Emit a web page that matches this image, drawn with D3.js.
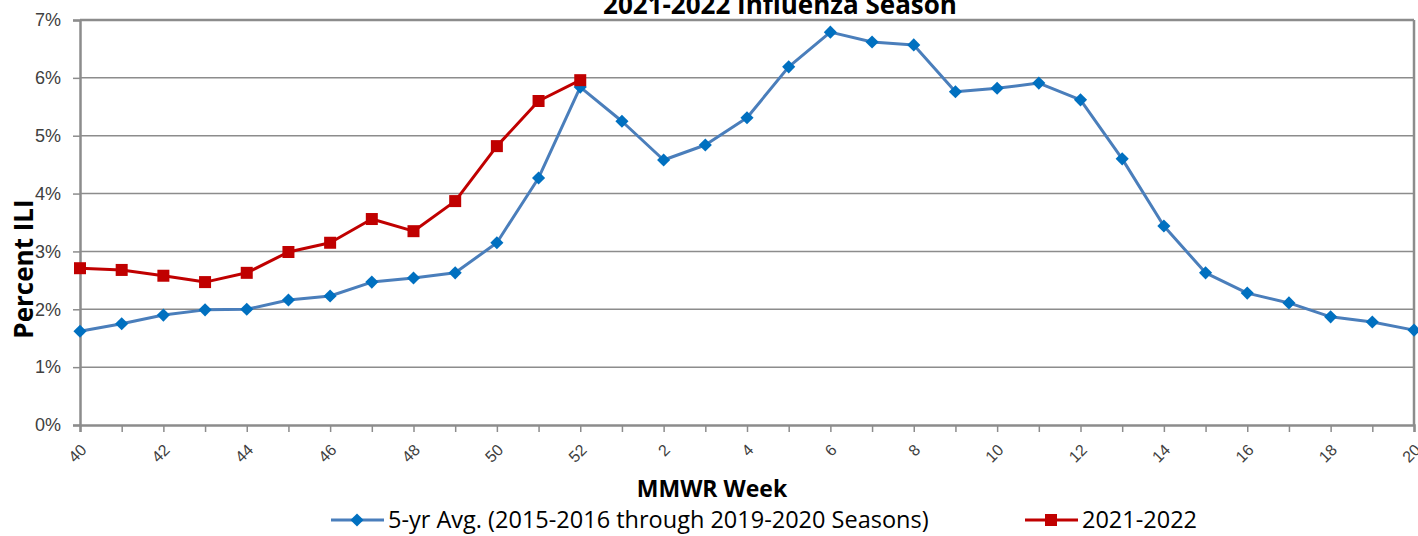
<!DOCTYPE html>
<html>
<head>
<meta charset="utf-8">
<script src="https://cdn.jsdelivr.net/npm/d3@7"></script>
<style>
  body { margin: 0; background: #fff; }
  svg { font-family: "Open Sans", "Liberation Sans", sans-serif; }
  .grid line { stroke: #8c8c8c; stroke-width: 1.5; }
  .tick text { fill: #404040; }
</style>
</head>
<body>
<div id="chart"></div>
<script>
// weeks on the x axis (season order)
var weeks = [40, 41, 42, 43, 44, 45, 46, 47, 48, 49, 50, 51, 52,
             1, 2, 3, 4, 5, 6, 7, 8, 9, 10, 11, 12, 13, 14, 15, 16, 17, 18, 19, 20];
// 5-year average, percent ILI
var avgValues = [1.62, 1.75, 1.90, 1.99, 2.00, 2.16, 2.23, 2.47, 2.54, 2.63, 3.15, 4.27, 5.84,
                 5.25, 4.58, 4.84, 5.31, 6.19, 6.79, 6.62, 6.57, 5.76, 5.82, 5.91, 5.62,
                 4.60, 3.44, 2.63, 2.28, 2.11, 1.87, 1.78, 1.64];
// current season so far
var seasonValues = [2.71, 2.68, 2.58, 2.47, 2.63, 2.99, 3.15, 3.56, 3.35, 3.87, 4.82, 5.60, 5.96];
var yTicks = [0, 1, 2, 3, 4, 5, 6, 7];
var seriesNames = ["5-yr Avg. (2015-2016 through 2019-2020 Seasons)", "2021-2022"];

var width = 1418, height = 536;
var margin = {left: 80, right: 4, top: 20, bottom: 111};
var plotW = width - margin.left - margin.right;
var plotH = height - margin.top - margin.bottom;

var svg = d3.select("#chart").append("svg")
    .attr("width", width)
    .attr("height", height);

var x = d3.scaleLinear().domain([0, weeks.length - 1]).range([margin.left, margin.left + plotW]);
var y = d3.scaleLinear().domain([0, 7]).range([margin.top + plotH, margin.top]);

// gridlines
svg.append("g").attr("class", "grid")
    .selectAll("line").data(yTicks.slice(1, -1))
    .enter().append("line")
    .attr("x1", margin.left).attr("x2", margin.left + plotW)
    .attr("y1", d => y(d)).attr("y2", d => y(d));

// frame top and right
svg.append("line")
    .attr("x1", margin.left).attr("x2", margin.left + plotW)
    .attr("y1", y(7)).attr("y2", y(7))
    .attr("stroke", "#8c8c8c").attr("stroke-width", 2.5);
svg.append("line")
    .attr("x1", margin.left + plotW).attr("x2", margin.left + plotW)
    .attr("y1", y(7)).attr("y2", y(0))
    .attr("stroke", "#8c8c8c").attr("stroke-width", 2.5);

// y axis
var yAxis = svg.append("g")
    .attr("transform", "translate(" + margin.left + ",0)")
    .call(d3.axisLeft(y).tickValues(yTicks).tickSize(7).tickPadding(12).tickFormat(d => d + "%"));
yAxis.selectAll("text").style("font-size", "18px");

// x axis
var xAxis = svg.append("g")
    .attr("transform", "translate(0," + y(0) + ")")
    .call(d3.axisBottom(x).tickValues(d3.range(weeks.length)).tickSize(7)
        .tickFormat((d, i) => i % 2 === 0 ? weeks[i] : ""));
xAxis.selectAll("text")
    .style("font-size", "16px")
    .style("text-anchor", "end")
    .attr("x", 0).attr("y", 0).attr("dy", "0.35em")
    .attr("transform", "translate(3,22) rotate(-45)");

[yAxis, xAxis].forEach(function(ax) {
    ax.select(".domain").attr("stroke", "#8c8c8c").attr("stroke-width", 2.5);
    ax.selectAll(".tick line").attr("stroke", "#8c8c8c").attr("stroke-width", 1.5);
});

// lines
var line = d3.line().x((d, i) => x(i)).y(d => y(d));

svg.append("path").datum(avgValues)
    .attr("fill", "none").attr("stroke", "#4a7ebb").attr("stroke-width", 3)
    .attr("stroke-linejoin", "round")
    .attr("d", line);

svg.append("path").datum(seasonValues)
    .attr("fill", "none").attr("stroke", "#c00000").attr("stroke-width", 3)
    .attr("stroke-linejoin", "round")
    .attr("d", line);

// markers
var diamond = d3.symbol().type(d3.symbolDiamond2).size(110);
svg.selectAll(".avgpt").data(avgValues)
    .enter().append("path")
    .attr("class", "avgpt")
    .attr("d", diamond)
    .attr("fill", "#0070c0")
    .attr("transform", (d, i) => "translate(" + x(i) + "," + y(d) + ")");

svg.selectAll(".seasonpt").data(seasonValues)
    .enter().append("rect")
    .attr("class", "seasonpt")
    .attr("x", (d, i) => x(i) - 6).attr("y", d => y(d) - 6)
    .attr("width", 12).attr("height", 12)
    .attr("fill", "#c00000");

// title (cut at the top like the source image)
svg.append("text")
    .attr("x", 780).attr("y", 14)
    .attr("text-anchor", "middle")
    .style("font-size", "26px").style("font-weight", "bold")
    .text("2021-2022 Influenza Season");

// axis titles
svg.append("text")
    .attr("transform", "translate(33,269) rotate(-90)")
    .attr("text-anchor", "middle")
    .style("font-size", "26px").style("font-weight", "bold")
    .text("Percent ILI");

svg.append("text")
    .attr("x", 712).attr("y", 497)
    .attr("text-anchor", "middle")
    .style("font-size", "23px").style("font-weight", "bold")
    .text("MMWR Week");

// legend
var legendItems = [
    {name: seriesNames[0], color: "#4a7ebb", mark: "#0070c0", shape: "diamond", x0: 331},
    {name: seriesNames[1], color: "#c00000", mark: "#c00000", shape: "square", x0: 1025}
];
var lg = svg.selectAll(".legend").data(legendItems).enter().append("g")
    .attr("class", "legend")
    .attr("transform", d => "translate(" + d.x0 + ",520)");
lg.append("line").attr("x1", 0).attr("x2", 53)
    .attr("stroke", d => d.color).attr("stroke-width", 3);
lg.append("path")
    .attr("d", d => d.shape === "diamond" ? diamond() : d3.symbol().type(d3.symbolSquare).size(144)())
    .attr("transform", "translate(26,0)")
    .attr("fill", d => d.mark);
lg.append("text")
    .attr("x", 57).attr("y", 8)
    .style("font-size", "23.5px").style("fill", "#000")
    .text(d => d.name);
</script>
</body>
</html>
